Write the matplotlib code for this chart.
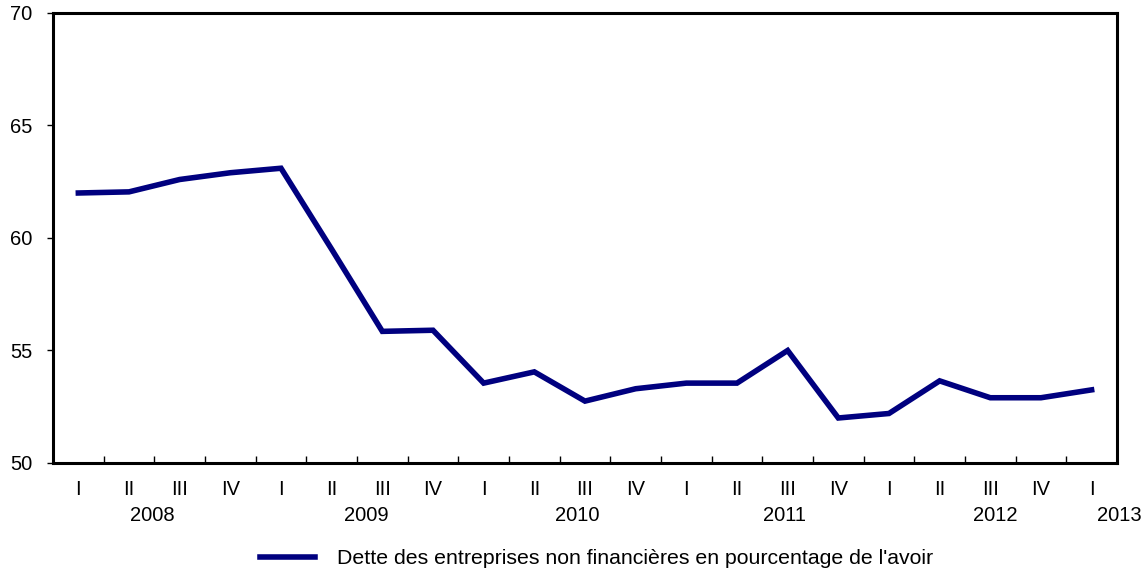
import matplotlib.pyplot as plt
import matplotlib.transforms as mtransforms

quarters = ["I", "II", "III", "IV"] * 5 + ["I"]
values = [62.0, 62.05, 62.6, 62.9,
          63.1, 59.5, 55.85, 55.9,
          53.55, 54.05, 52.75, 53.3,
          53.55, 53.55, 55.0, 52.0,
          52.2, 53.65, 52.9, 52.9,
          53.25]
years = ["2008", "2009", "2010", "2011", "2012", "2013"]
year_pos = [1.46, 5.68, 9.85, 13.93, 18.1, 20.55]
series_name = "Dette des entreprises non financières en pourcentage de l'avoir"

plt.rcParams['font.family'] = ['Liberation Sans', 'DejaVu Sans']

fig = plt.figure(figsize=(11.45, 5.75), dpi=100)
ax = fig.add_axes([0.0463, 0.1948, 0.9292, 0.7826])

x = list(range(len(values)))
ax.plot(x, values, color='#00007f', linewidth=4.0, solid_joinstyle='miter',
        label=series_name)

ax.set_xlim(-0.5, len(values) - 0.5)
ax.set_ylim(50, 70)
ax.set_yticks([50, 55, 60, 65, 70])
ax.tick_params(axis='y', direction='out', length=4, width=1, pad=11, labelsize=14.5)

ax.set_xticks(x)
ax.set_xticklabels(quarters)
ax.tick_params(axis='x', which='major', length=0, pad=12, labelsize=14.5)
ax.set_xticks([i + 0.5 for i in range(len(values) - 1)], minor=True)
ax.tick_params(axis='x', which='minor', direction='in', length=5, width=1)

for s in ax.spines.values():
    s.set_linewidth(2.2)

trans = mtransforms.blended_transform_factory(ax.transData, ax.transAxes)
for yr, p in zip(years, year_pos):
    ax.text(p, -0.117, yr, transform=trans, ha='center', va='center', fontsize=14.5)

fig.legend(loc='center', bbox_to_anchor=(0.521, 0.028), frameon=False,
           fontsize=15.3, handlelength=2.6, handletextpad=1.0)

fig.savefig("out.png", dpi=100)
